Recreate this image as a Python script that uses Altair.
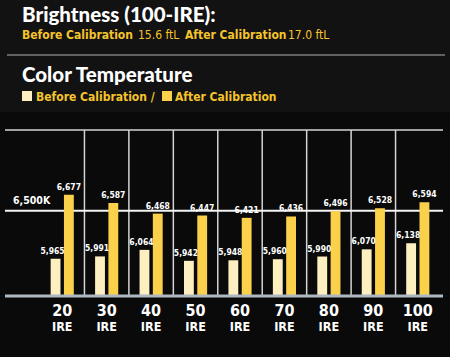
import altair as alt
import pandas as pd

ire = ["20", "30", "40", "50", "60", "70", "80", "90", "100"]
before = [5965, 5991, 6064, 5942, 5948, 5960, 5990, 6070, 6138]
after = [6677, 6587, 6468, 6447, 6421, 6436, 6496, 6528, 6594]
series = ["Before Calibration", "After Calibration"]
target = 6500
y_floor = 5550
y_top = 7400

rows = []
for i, v_b, v_a in zip(ire, before, after):
    rows.append({"ire": i, "series": series[0], "value": v_b, "label": f"{v_b:,}"})
    rows.append({"ire": i, "series": series[1], "value": v_a, "label": f"{v_a:,}"})
df = pd.DataFrame(rows)
sep_df = pd.DataFrame({"ire": ire[1:]})
cat_df = pd.DataFrame({"ire": ire})
one_df = pd.DataFrame({"k": [0]})

NARROW = "Liberation Sans Narrow, DejaVu Sans Condensed, Lato, sans-serif"
HEAVY = "Lato, Open Sans, sans-serif"
YEL = "#f5c42c"
C_BEFORE = "#fdefbf"
C_AFTER = "#fbd14c"

W, H = 450, 357
xs = alt.Scale(domain=ire, paddingInner=0, paddingOuter=0.5625, align=0.8)
ys = alt.Scale(domain=[4870, 8849], zero=False, nice=False)
X = alt.X("ire:N", scale=xs, axis=None, sort=ire)
XO = alt.XOffset("series:N", sort=series,
                 scale=alt.Scale(domain=series, paddingInner=0.26, paddingOuter=0.8))

bg = alt.Chart(one_df).mark_rect(color="#0a0a0a").encode(
    x=alt.value(0), x2=alt.value(W), y=alt.value(112), y2=alt.value(H))

bars = alt.Chart(df).mark_bar().encode(
    x=X, xOffset=XO,
    y=alt.Y("value:Q", scale=ys, axis=None),
    y2=alt.Y2(datum=y_floor),
    color=alt.Color("series:N", scale=alt.Scale(domain=series, range=[C_BEFORE, C_AFTER]), legend=None),
)

def value_labels(s, dx):
    return alt.Chart(df).transform_filter(alt.datum.series == s).mark_text(
        font=NARROW, fontWeight="bold", fontSize=8.5, color="white",
        baseline="bottom", dy=-3, dx=dx).encode(
        x=X, xOffset=XO,
        y=alt.Y("value:Q", scale=ys, axis=None),
        text="label:N",
    )

labels_b = value_labels(series[0], -3)
labels_a = value_labels(series[1], 0)

seps = alt.Chart(sep_df).mark_rule(color="#d4d4d4", strokeWidth=1.5).encode(
    x=alt.X("ire:N", scale=xs, axis=None, sort=ire, bandPosition=0),
    y=alt.Y(datum=y_top, scale=ys, axis=None),
    y2=alt.Y2(datum=y_floor),
)

def hline(val, color, sw):
    return alt.Chart(one_df).mark_rule(color=color, strokeWidth=sw).encode(
        x=alt.value(5), x2=alt.value(443), y=alt.Y(datum=val, scale=ys, axis=None))

top_line = hline(y_top, "#d4d4d4", 1.5)
t_line = hline(target, "#f4f4f4", 2)
base_line = hline(y_floor, "#aeb8c2", 3)

t_label = alt.Chart(one_df).mark_text(font=NARROW, fontWeight="bold", fontSize=10.5,
                                      color="white", align="left", baseline="bottom", dy=-5).encode(
    x=alt.value(13), y=alt.Y(datum=target, scale=ys, axis=None), text=alt.value("6,500K"))

xnum = alt.Chart(cat_df).mark_text(font=NARROW, fontWeight="bold", fontSize=16,
                                   color="white", baseline="middle").encode(
    x=alt.X("ire:N", scale=xs, axis=None, sort=ire, bandPosition=0.5),
    y=alt.value(311), text="ire:N")
xire = alt.Chart(cat_df).mark_text(font=NARROW, fontWeight="bold", fontSize=12.5,
                                   color="white", baseline="middle").encode(
    x=alt.X("ire:N", scale=xs, axis=None, sort=ire, bandPosition=0.5),
    y=alt.value(327), text=alt.value("IRE"))

def txt(s, x, y, size, color, font, weight="bold"):
    return alt.Chart(one_df).mark_text(
        font=font, fontWeight=weight, fontSize=size, color=color,
        align="left", baseline="alphabetic").encode(
        x=alt.value(x), y=alt.value(y), text=alt.value(s))

def sq(x, y, color):
    return alt.Chart(one_df).mark_rect(color=color).encode(
        x=alt.value(x), x2=alt.value(x + 10), y=alt.value(y), y2=alt.value(y + 10))

header = [
    txt("Brightness (100-IRE):", 22, 22, 20.5, "white", HEAVY, 900),
    txt("Before Calibration", 22, 39, 12, YEL, NARROW),
    txt("15.6 ftL", 138, 39, 12, YEL, NARROW, "normal"),
    txt("After Calibration", 185, 39, 12, YEL, NARROW),
    txt("17.0 ftL", 288, 39, 12, YEL, NARROW, "normal"),
    alt.Chart(one_df).mark_rule(color="#7c7c7c", strokeWidth=1.5).encode(
        x=alt.value(7), x2=alt.value(445), y=alt.value(55)),
    txt("Color Temperature", 22, 82, 20.5, "white", HEAVY, 900),
    sq(22, 91, C_BEFORE),
    txt("Before Calibration /", 36, 101, 12, YEL, NARROW),
    sq(162, 91, C_AFTER),
    txt("After Calibration", 175, 101, 12, YEL, NARROW),
]

chart = alt.layer(
    bg, top_line, seps, t_line, bars, labels_b, labels_a, base_line, t_label, xnum, xire, *header
).properties(
    width=W, height=H, background="#121212",
    autosize=alt.AutoSizeParams(type="none"), padding=0,
).configure_view(stroke=None)

chart.save("out.html", embed_options={"renderer": "svg", "actions": False})
